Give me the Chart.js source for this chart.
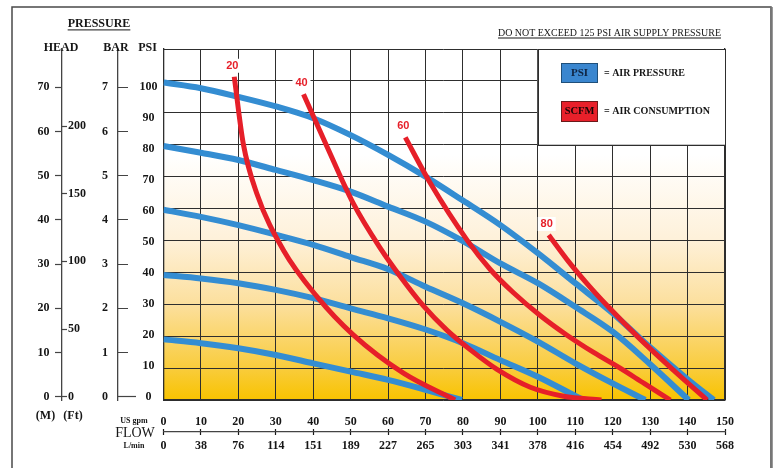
<!DOCTYPE html>
<html><head><meta charset="utf-8">
<script src="https://cdn.jsdelivr.net/npm/chart.js@4.4.1/dist/chart.umd.min.js"></script>
<style>html,body{margin:0;padding:0;background:#fff}canvas{display:block}</style>
</head><body>
<canvas id="c" width="774" height="468"></canvas>
<script>
// ---------- data ----------
const FLOW_GPM   = [0,10,20,30,40,50,60,70,80,90,100,110,120,130,140,150];
const FLOW_LMIN  = ['0','38','76','114','151','189','227','265','303','341','378','416','454','492','530','568'];
const PSI_TICKS  = [0,10,20,30,40,50,60,70,80,90,100];
const BAR_TICKS  = [0,1,2,3,4,5,6,7];
const HEAD_M_TICKS  = [0,10,20,30,40,50,60,70];
const HEAD_FT_TICKS = [0,50,100,150,200];

// air pressure curves (gpm, psi)
const AIR_100_PSI = [[0,99.5],[10,97.7],[20,95.0],[30,92.0],[40,88.3],[50,83.0],[60,76.8],[70,70.0],[80,62.5],[90,54.8],[100,46.0],[110,36.6],[120,27.2],[130,16.5],[140,6.5],[147,0]];
const AIR_80_PSI  = [[0,79.6],[10,77.5],[20,75.2],[30,72.1],[40,68.9],[50,65.3],[60,60.6],[70,55.9],[80,49.8],[90,42.8],[100,36.6],[110,29.2],[120,21.4],[130,11.2],[140.3,0]];
const AIR_60_PSI  = [[0,59.6],[10,57.4],[20,54.8],[30,51.8],[40,48.6],[50,44.8],[60,41.0],[70,35.5],[80,30.3],[90,24.5],[100,18.3],[110,11.5],[120,5.2],[128.7,0]];
const AIR_40_PSI  = [[0,39.2],[10,38.1],[20,36.6],[30,34.5],[40,31.9],[50,28.7],[60,25.6],[70,22.1],[80,17.8],[90,12.5],[100,7.3],[110,1.3],[112.2,0]];
const AIR_20_PSI  = [[0,19.0],[10,17.8],[20,16.2],[30,14.1],[40,11.5],[50,8.9],[60,6.3],[70,3.2],[79.7,0]];
const AIR_LABELS  = ['100 PSI','80 PSI','60 PSI','40 PSI','20 PSI'];

// air consumption curves (gpm, psi)
const SCFM_20 = [[18.9,101.3],[21.3,80.4],[24.9,64.8],[32.0,47.0],[41.0,32.4],[50.7,20.4],[64.1,8.4],[77.9,0]];
const SCFM_40 = [[37.4,95.8],[43.6,79.6],[50.7,61.6],[57.9,47.6],[63.2,38.8],[69.5,29.4],[75.7,21.9],[82.0,15.7],[89.1,9.6],[98.0,4.0],[106.9,1.2],[117,0]];
const SCFM_60 = [[64.6,82.3],[71.3,67.9],[81.1,50.1],[87.3,40.9],[93.5,33.6],[100.7,26.4],[107.8,20.3],[114.9,14.9],[122.1,9.9],[128.5,5.1],[135.4,0]];
const SCFM_80 = [[102.9,51.7],[107.8,44.0],[113.2,36.4],[118.5,29.6],[127.4,19.0],[136.3,9.3],[145.2,0]];
const SCFM_LABELS = ['20','40','60','80'];

// ---------- styles ----------
const BLUE = '#348dd2', RED = '#e61f29', INK = '#161616', GRID = '#2e2e2e';
const SERIF = '"Liberation Serif", "DejaVu Serif", serif';
const tickFont = {family: SERIF, size: 12, weight: 'bold'};

const pts = a => a.map(([x, y]) => ({x, y}));
const fixedTicks = vals => s => { s.ticks = vals.map(v => ({value: v})); };
const setW = w => s => { s.width = w; };
const setH = h => s => { s.height = h; };

const datasets = [];
[SCFM_20, SCFM_40, SCFM_60, SCFM_80].forEach((d, i) => datasets.push({
  label: SCFM_LABELS[i] + ' SCFM', data: pts(d), xAxisID: 'x', yAxisID: 'y',
  borderColor: RED, borderWidth: 5,
  pointRadius: 0, cubicInterpolationMode: 'monotone', fill: false, order: 0, isScfm: true, tag: SCFM_LABELS[i]
}));
[AIR_100_PSI, AIR_80_PSI, AIR_60_PSI, AIR_40_PSI, AIR_20_PSI].forEach((d, i) => datasets.push({
  label: AIR_LABELS[i], data: pts(d), xAxisID: 'x', yAxisID: 'y',
  borderColor: BLUE, borderWidth: 6,
  pointRadius: 0, cubicInterpolationMode: 'monotone', fill: false, order: 1
}));

function txt(ctx, s, x, y, font, align, opts = {}) {
  ctx.save();
  ctx.font = font;
  ctx.fillStyle = opts.color || INK;
  ctx.textBaseline = 'middle';
  let w = ctx.measureText(s).width;
  let sx = 1;
  if (opts.width) sx = opts.width / w;
  let left = align === 'center' ? x - w * sx / 2 : align === 'right' ? x - w * sx : x;
  ctx.translate(left, y);
  ctx.scale(sx, 1);
  ctx.textAlign = 'left';
  ctx.fillText(s, 0, 0);
  if (opts.underline) {
    const fs = parseFloat(font.match(/([\d.]+)px/)[1]);
    ctx.fillRect(0, fs * 0.45, w, Math.max(1, fs * 0.08));
  }
  ctx.restore();
}

const decor = {
  id: 'decor',
  beforeDraw(chart) {
    const {ctx, chartArea: a} = chart;
    const g = ctx.createLinearGradient(0, a.top, 0, a.bottom);
    g.addColorStop(0, '#ffffff');
    g.addColorStop(0.30, '#ffffff');
    g.addColorStop(0.54, '#fef1da');
    g.addColorStop(0.73, '#fcdf9c');
    g.addColorStop(0.91, '#f9cc3c');
    g.addColorStop(1, '#f8c300');
    ctx.save();
    ctx.fillStyle = g;
    ctx.fillRect(a.left, a.top, a.right - a.left, a.bottom - a.top);
    ctx.restore();
  },
  beforeDatasetsDraw(chart) {
    const {ctx, scales: {x, y}} = chart;
    const l = x.getPixelForValue(100), r = x.getPixelForValue(150);
    const t = y.getPixelForValue(110), b = y.getPixelForValue(80);
    ctx.save();
    ctx.fillStyle = '#fff';
    ctx.fillRect(l, t, r - l, b - t);
    ctx.strokeStyle = GRID; ctx.lineWidth = 1;
    ctx.strokeRect(Math.round(l) + 0.5, Math.round(t) + 0.5, Math.round(r - l), Math.round(b - t));
    ctx.restore();
  },
  afterDatasetsDraw(chart) {
    const {ctx} = chart;
    chart.data.datasets.forEach((ds, i) => {
      if (!ds.isScfm) return;
      const p = chart.getDatasetMeta(i).data[0];
      const cx = p.x - 2, cy = p.y - 11;
      ctx.save();
      ctx.fillStyle = '#fff';
      ctx.fillRect(cx - 9, cy - 7, 18, 14);
      ctx.restore();
      txt(ctx, ds.tag, cx, cy, 'bold 11px "Liberation Sans", Arial, sans-serif', 'center', {color: RED});
    });
  },
  afterDraw(chart) {
    const {ctx} = chart;
    ctx.save();
    ctx.strokeStyle = '#4a4a4a'; ctx.lineWidth = 1.5;
    ctx.beginPath();
    ctx.moveTo(12, 470); ctx.lineTo(12, 7); ctx.lineTo(771, 7); ctx.lineTo(771, 470);
    ctx.stroke();
    ctx.strokeStyle = '#777'; ctx.lineWidth = 2.5;
    ctx.beginPath(); ctx.moveTo(771.5, 7); ctx.lineTo(771.5, 470); ctx.stroke();
    ctx.restore();

    const B12 = 'bold 12px ' + SERIF;
    txt(ctx, 'PRESSURE', 99, 24, B12, 'center', {underline: true});
    txt(ctx, 'HEAD', 61, 48, B12, 'center');
    txt(ctx, 'BAR', 116, 48, B12, 'center');
    txt(ctx, 'PSI', 147.5, 48, B12, 'center');
    txt(ctx, '(M)', 45.5, 416, B12, 'center');
    txt(ctx, '(Ft)', 73, 416, B12, 'center');
    txt(ctx, 'US gpm', 134, 421, 'bold 8px ' + SERIF, 'center');
    txt(ctx, 'FLOW', 135, 433, '14px ' + SERIF, 'center');
    txt(ctx, 'L/min', 134, 446, 'bold 8px ' + SERIF, 'center');
    txt(ctx, 'DO NOT EXCEED 125 PSI AIR SUPPLY PRESSURE', 498, 33, '10px ' + SERIF, 'left', {width: 223, underline: true});

    ctx.save();
    ctx.fillStyle = '#3a86cf'; ctx.fillRect(561, 63, 37, 20);
    ctx.strokeStyle = '#1f4f7a'; ctx.lineWidth = 1; ctx.strokeRect(561.5, 63.5, 36, 19);
    ctx.fillStyle = '#e8202a'; ctx.fillRect(561, 101, 37, 21);
    ctx.strokeStyle = '#6a1a1a'; ctx.strokeRect(561.5, 101.5, 36, 20);
    ctx.restore();
    txt(ctx, 'PSI', 579.5, 73, 'bold 11px ' + SERIF, 'center', {color: '#0f2340'});
    txt(ctx, 'SCFM', 579.5, 111.5, 'bold 10.5px ' + SERIF, 'center', {color: '#1a0505'});
    txt(ctx, '= AIR PRESSURE', 604, 73.3, 'bold 10px ' + SERIF, 'left', {width: 81});
    txt(ctx, '= AIR CONSUMPTION', 604, 111.7, 'bold 10px ' + SERIF, 'left', {width: 106});
  }
};

new Chart(document.getElementById('c'), {
  type: 'line',
  data: {datasets},
  plugins: [decor],
  options: {
    responsive: false,
    animation: false,
    devicePixelRatio: 1,
    layout: {padding: {top: 49, left: 0, right: 0, bottom: 0}},
    plugins: {legend: {display: false}, tooltip: {enabled: false}},
    scales: {
      y: {type: 'linear', position: 'right', min: 0, max: 110,
          ticks: {display: false, stepSize: 10},
          grid: {color: GRID, lineWidth: 1, drawTicks: false},
          border: {display: true, color: GRID, width: 1.3}, afterFit: setW(49)},
      x: {type: 'linear', position: 'bottom', weight: 0, min: 0, max: 150,
          afterBuildTicks: fixedTicks(FLOW_GPM), ticks: {display: false},
          grid: {color: GRID, lineWidth: 1, drawTicks: false},
          border: {display: true, color: GRID, width: 1.3}, afterFit: setH(0)},
      xg: {type: 'linear', position: 'bottom', weight: 1, min: 0, max: 150,
          afterBuildTicks: fixedTicks(FLOW_GPM),
          ticks: {font: tickFont, color: INK, padding: -20, maxRotation: 0, autoSkip: false},
          grid: {drawOnChartArea: false, drawTicks: true, tickLength: 35, tickColor: INK, tickWidth: 1.2, tickBorderDash: [0, 29, 6, 100]},
          border: {display: false}, afterFit: setH(32)},
      xl: {type: 'linear', position: 'bottom', weight: 2, min: 0, max: 150,
          afterBuildTicks: fixedTicks(FLOW_GPM),
          ticks: {font: tickFont, color: INK, padding: 7, maxRotation: 0, autoSkip: false,
                  callback: (v, i) => FLOW_LMIN[i]},
          grid: {drawOnChartArea: false, drawTicks: false},
          border: {display: true, color: '#444', width: 1.2}, afterFit: setH(36)},
      head: {type: 'linear', position: 'left', weight: 3, min: -0.747, max: 78.66,
          afterBuildTicks: fixedTicks(HEAD_M_TICKS),
          ticks: {font: tickFont, color: INK, padding: 5.5, autoSkip: false},
          grid: {drawOnChartArea: false, tickLength: 7, tickColor: '#444', tickWidth: 1.2},
          border: {display: true, color: '#444', width: 1.3}, afterFit: setW(62)},
      ft: {type: 'linear', position: 'left', weight: 2, min: -2.44, max: 256.9,
          afterBuildTicks: fixedTicks(HEAD_FT_TICKS),
          ticks: {font: tickFont, color: INK, padding: 6, mirror: true, autoSkip: false},
          grid: {drawOnChartArea: false, tickLength: -5, tickColor: '#444', tickWidth: 1.2},
          border: {display: false}, afterFit: setW(0)},
      bar: {type: 'linear', position: 'left', weight: 1, min: -0.0747, max: 7.866,
          afterBuildTicks: fixedTicks(BAR_TICKS),
          ticks: {font: tickFont, color: INK, padding: 28, autoSkip: false},
          grid: {drawOnChartArea: false, tickLength: -18, tickColor: '#444', tickWidth: 1.2,
                 tickBorderDash: c => (c.tick && c.tick.value === 0) ? [] : [0, 8, 10, 100]},
          border: {display: true, color: '#444', width: 1.3}, afterFit: setW(56)},
      psi: {type: 'linear', position: 'left', weight: 0, min: -0.968, max: 112.26,
          afterBuildTicks: fixedTicks(PSI_TICKS),
          ticks: {font: tickFont, color: INK, padding: 6, crossAlign: 'center', autoSkip: false},
          grid: {drawOnChartArea: false, drawTicks: false},
          border: {display: true, color: GRID, width: 1.3}, afterFit: setW(45.5)}
    }
  }
});
</script>
</body></html>
